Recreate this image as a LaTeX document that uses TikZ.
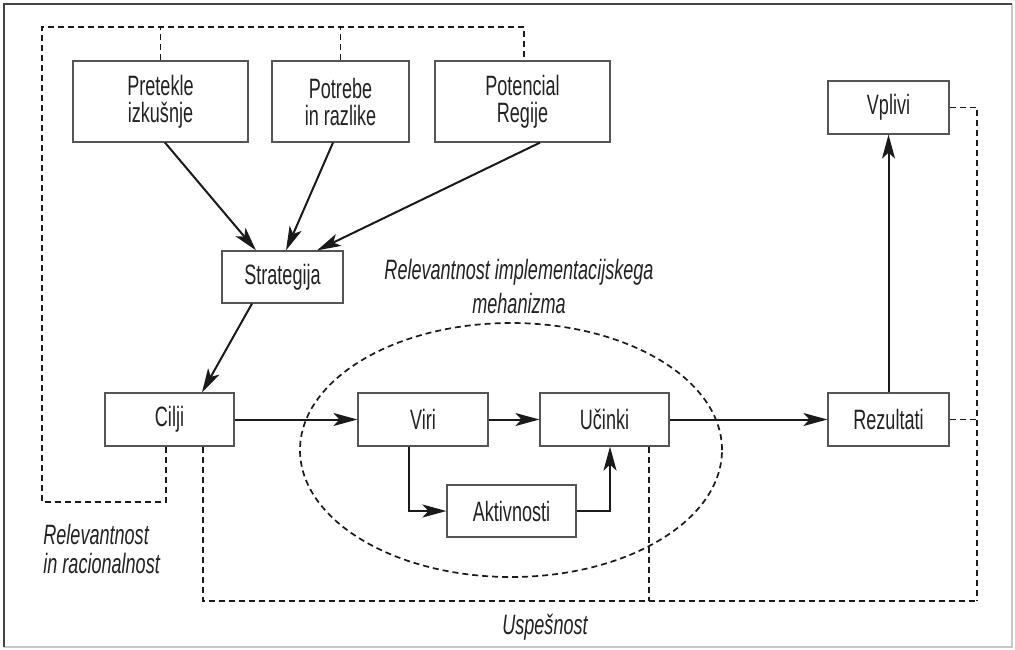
\documentclass[tikz,border=0pt]{standalone}
\usepackage{fontspec}
\setmainfont[FakeStretch=0.645]{Liberation Sans}
\usetikzlibrary{arrows.meta,calc}
\definecolor{boxgray}{HTML}{555555}
\definecolor{txt}{HTML}{222222}
\definecolor{arrc}{HTML}{1A1A1A}
\definecolor{framedark}{HTML}{444444}
\definecolor{framelight}{HTML}{C8C8C8}
\begin{document}
\begin{tikzpicture}[x=0.5pt,y=-0.5pt,
  box/.style={draw=boxgray, line width=0.6pt, minimum height=26.5pt, inner sep=0pt, align=center, text=txt, font=\fontsize{14}{13.5}\selectfont},
  arr/.style={draw=arrc, line width=1pt, -{Stealth[length=12pt,width=6.5pt,inset=3pt]}},
  dsh/.style={draw=arrc, line width=0.85pt, dash pattern=on 3pt off 2pt},
  lbl/.style={text=txt, inner sep=0pt, font=\fontsize{14}{17}\selectfont\itshape}]
\useasboundingbox (0,0) rectangle (1015,649);
% frame
\draw[framelight, line width=1pt] (4,647) -- (1012,647) -- (1012,4);
\draw[framedark, line width=1.3pt] (4,647) -- (4,4) -- (1012,4);
% boxes
\node[box, minimum width=87.5pt, minimum height=40.5pt] (pre) at (160.5,101.5) {Pretekle\\izkušnje};
\node[box, minimum width=68.5pt, minimum height=40.5pt] (potr) at (340.5,101.5) {Potrebe\\in razlike};
\node[box, minimum width=87.5pt, minimum height=40.5pt] (potc) at (522.5,101.5) {Potencial\\Regije};
\node[box, minimum width=60.5pt, minimum height=26pt] (str) at (282.5,277) {Strategija};
\node[box, minimum width=64.5pt] (cilji) at (169.5,419.5) {Cilji};
\node[box, minimum width=65pt] (viri) at (423,419.5) {Viri};
\node[box, minimum width=64.5pt] (uc) at (604.5,419.5) {Učinki};
\node[box, minimum width=64.5pt, minimum height=26pt] (akt) at (511.5,511) {Aktivnosti};
\node[box, minimum width=60.5pt] (rez) at (888.5,419.5) {Rezultati};
\node[box, minimum width=60.5pt] (vpl) at (888.5,107.5) {Vplivi};
% labels
\node[lbl, align=center] (tit) at (519,286) {Relevantnost implementacijskega\\mehanizma};
\node[lbl, align=left, anchor=west, font=\fontsize{14}{14.5}\selectfont\itshape] (rr) at (43,549) {Relevantnost\\in racionalnost};
\node[lbl] (usp) at (545,627) {Uspešnost};
% dashed helper coordinates
\coordinate (dl) at (42,502);
\coordinate (tl) at (42,27);
\coordinate (tr) at (524,27);
\coordinate (br) at (977,601);
% ellipse
\draw[dsh] (511,450) ellipse [x radius=105.5pt, y radius=63.5pt];
% arrows
\draw[arr] ([xshift=2.25pt]pre.south) -- ([xshift=-13.25pt]str.north);
\draw[arr] ([xshift=-3.75pt]potr.south) -- ([xshift=1.75pt]str.north);
\draw[arr] ([xshift=8.75pt]potc.south) -- ([xshift=17.25pt]str.north);
\draw[arr] ([xshift=-15.25pt]str.south) -- ([xshift=16.25pt]cilji.north);
\draw[arr] (cilji.east) -- (viri.west);
\draw[arr] (viri.east) -- (uc.west);
\draw[arr] ([xshift=-7pt]viri.south) |- (akt.west);
\draw[arr] (akt.east) -| ([xshift=2.75pt]uc.south);
\draw[arr] (uc.east) -- (rez.west);
\draw[arr] (rez.north) -- (vpl.south);
% dashed connectors
\draw[dsh] ([xshift=-1.75pt]cilji.south) |- (dl) -- (tl) -- (tr) -- ([xshift=0.75pt]potc.north);
\draw[dsh] (pre.north) -- (pre.north |- tl);
\draw[dsh] (potr.north) -- (potr.north |- tl);
\draw[dsh] ([xshift=16.75pt]cilji.south) |- (br);
\draw[dsh] ([xshift=22.25pt]uc.south) -- ([xshift=22.25pt]uc.south |- br);
\draw[dsh] (vpl.east) -| (br);
\draw[dsh] (rez.east) -- (rez.east -| br);
\end{tikzpicture}
\end{document}
